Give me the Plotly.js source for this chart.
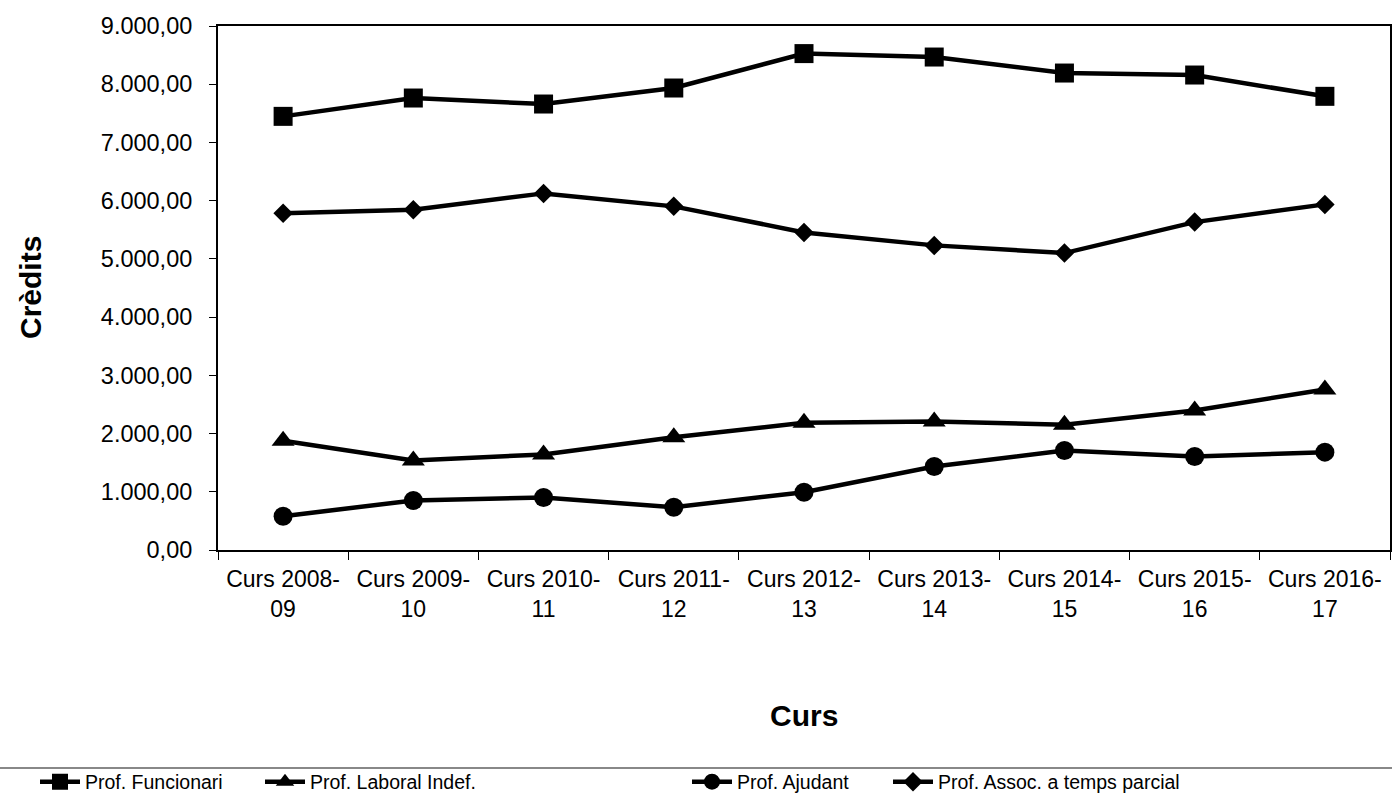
<!DOCTYPE html>
<html>
<head>
<meta charset="utf-8">
<script src="https://cdn.plot.ly/plotly-3.0.1.min.js"></script>
<style>html,body{margin:0;padding:0;background:#fff;}#chart{width:1392px;height:812px;}</style>
</head>
<body>
<div id="chart"></div>
<script>
// ---- data ----
var categories = ['Curs 2008-09','Curs 2009-10','Curs 2010-11','Curs 2011-12','Curs 2012-13','Curs 2013-14','Curs 2014-15','Curs 2015-16','Curs 2016-17'];
var seriesNames = ['Prof. Funcionari','Prof. Laboral Indef.','Prof. Ajudant','Prof. Assoc. a temps parcial'];
var funcionari = [7448, 7763, 7660, 7935, 8526, 8467, 8192, 8158, 7792];
var laboral    = [1876, 1538, 1641, 1938, 2185, 2208, 2151, 2397, 2758];
var ajudant    = [581, 851, 902, 735, 993, 1435, 1710, 1607, 1681];
var assoc      = [5782, 5845, 6125, 5902, 5455, 5232, 5100, 5632, 5936];
var yTicks     = [0,1000,2000,3000,4000,5000,6000,7000,8000,9000];

var W = 1392, H = 812;
var mL = 218, mR = 2, mT = 26, mB = 262;
var pw = W - mL - mR, ph = H - mT - mB;
function px(x){ return (x - mL) / pw; }
function py(y){ return (H - mB - y) / ph; }

var tickText = categories.map(function(c){ return c.replace('-', '-<br>'); });
var FONT = 'Liberation Sans, Arial, sans-serif';

function mk(name, ys, symbol, size, leg){
  return {
    type:'scatter', mode:'lines+markers', name:name, x:categories, y:ys,
    line:{color:'#000', width:4.5},
    marker:{symbol:symbol, size:size, color:'#000'},
    legend: leg, cliponaxis:false, hoverinfo:'x+y+name'
  };
}
var traces = [
  mk(seriesNames[0], funcionari, 'square', 19, 'legend'),
  mk(seriesNames[1], laboral, 'triangle-up', 20, 'legend2'),
  mk(seriesNames[2], ajudant, 'circle', 19, 'legend3'),
  mk(seriesNames[3], assoc, 'diamond', 15, 'legend4')
];

function legendAt(xpix){
  return {orientation:'h', x:px(xpix), xanchor:'left', y:py(782), yanchor:'middle',
          font:{family:FONT, size:19.5, color:'#000'},
          bgcolor:'rgba(0,0,0,0)', borderwidth:0, itemwidth:40};
}

var layout = {
  width:W, height:H,
  margin:{l:mL, r:mR, t:mT, b:mB, pad:0},
  paper_bgcolor:'#fff', plot_bgcolor:'#fff',
  separators:',.',
  font:{family:FONT, size:23, color:'#000'},
  showlegend:true,
  legend: legendAt(35),
  legend2: legendAt(260),
  legend3: legendAt(687),
  legend4: legendAt(888),
  xaxis:{
    type:'category', range:[-0.5, 8.5], tickson:'boundaries',
    tickvals:categories, ticktext:tickText,
    ticks:'outside', ticklen:8, tickwidth:1, tickcolor:'#000',
    ticklabelstandoff:7,
    showline:true, linewidth:2, linecolor:'#000', mirror:true,
    showgrid:false, zeroline:false, automargin:false,
    tickfont:{family:FONT, size:23, color:'#000'}
  },
  yaxis:{
    range:[0, 9000], tickvals:yTicks, tickformat:',.2f',
    ticks:'outside', ticklen:7, tickwidth:1, tickcolor:'#000',
    ticklabelstandoff:12,
    showline:true, linewidth:2, linecolor:'#000', mirror:true,
    showgrid:false, zeroline:false, automargin:false,
    tickfont:{family:FONT, size:23.5, color:'#000'}
  },
  annotations:[
    {text:'<b>Crèdits</b>', xref:'paper', yref:'paper', x:px(30), y:0.5, textangle:-90,
     showarrow:false, xanchor:'center', yanchor:'middle', font:{family:FONT, size:30, color:'#000'}},
    {text:'<b>Curs</b>', xref:'paper', yref:'paper', x:px(804), y:py(715),
     showarrow:false, xanchor:'center', yanchor:'middle', font:{family:FONT, size:30, color:'#000'}}
  ],
  shapes:[
    {type:'line', xref:'paper', yref:'paper', x0:px(0), x1:px(1392), y0:py(768), y1:py(768),
     line:{color:'#888', width:2}}
  ]
};

Plotly.newPlot('chart', traces, layout, {displayModeBar:false, staticPlot:true});
</script>
</body>
</html>
